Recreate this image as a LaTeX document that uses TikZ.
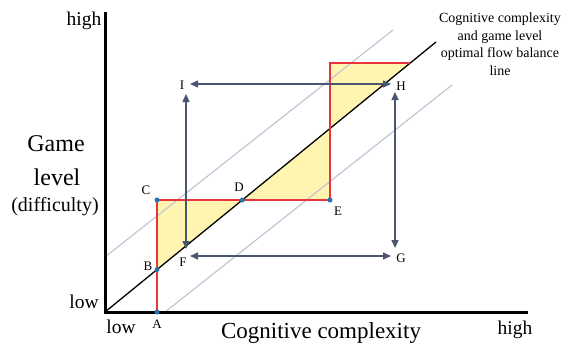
\documentclass[tikz,border=0pt]{standalone}
\usepackage{fontspec}
\setmainfont{Liberation Serif}
\usetikzlibrary{arrows.meta}

\definecolor{stairred}{HTML}{E8343C}
\definecolor{flowyellow}{HTML}{FFF5B0}
\definecolor{dotblue}{HTML}{2A72A8}
\definecolor{arrowgray}{HTML}{4A5570}
\definecolor{bandgray}{HTML}{C2C6D4}

\tikzset{
  dot/.style={circle,fill=dotblue,inner sep=0pt,minimum size=5pt},
  lbl/.style={font=\fontsize{13}{13}\selectfont,inner sep=1pt},
  flowarrow/.style={arrowgray,line width=1.4pt,{Triangle[length=8pt,width=7pt]}-{Triangle[length=8pt,width=7pt]}}
}

\begin{document}
\begin{tikzpicture}[x=1pt,y=-1pt]
            \useasboundingbox (0,0) rectangle (565,346);

            \coordinate (O) at (105,312);
            \coordinate (T) at (436,42);
            \coordinate (A) at (157,312);
            \coordinate (B) at (157,269.6);
            \coordinate (C) at (157,200);
            \coordinate (D) at (242.3,200);
            \coordinate (E) at (330,200);
            \coordinate (M) at (330,128.5);
            \coordinate (P) at (330,63);
            \coordinate (Q) at (410.3,63);

            % yellow areas between steps and balance line
            \fill[flowyellow] (B)--(C)--(D)--cycle;
            \fill[flowyellow] (D)--(E)--(P)--(Q)--cycle;

            % band around balance line
            \draw[bandgray,line width=1.2pt] (105,257)--(393,30);
            \draw[bandgray,line width=1.2pt] (165,312)--(452,85);

            \draw[line width=1.3pt] (O)--(T);
            \draw[stairred,line width=1.8pt] (A)--(C)--(E)--(P)--(Q);

            % axes
            \draw[line width=3pt] (105,12)--(O)--(528,312);

            \foreach \p in {A,B,C,D,E} \node[dot] at (\p) {};

            % arrows
            \coordinate (i1) at (190,84);
            \coordinate (h1) at (391,84);
            \coordinate (f1) at (190,256);
            \coordinate (g1) at (391,256);
            \coordinate (v1) at (186,94);
            \coordinate (v2) at (186,249);
            \coordinate (w1) at (395,92);
            \coordinate (w2) at (395,248);
            \draw[flowarrow] (i1)--(h1);
            \draw[flowarrow] (f1)--(g1);
            \draw[flowarrow] (v1)--(v2);
            \draw[flowarrow] (w1)--(w2);

            \node[lbl] (la) at (157,324) {A};
            \node[lbl] (lb) at (148,266) {B};
            \node[lbl] (lc) at (146,190) {C};
            \node[lbl] (ld) at (239,187) {D};
            \node[lbl] (le) at (338,211) {E};
            \node[lbl] (lf) at (183,262) {F};
            \node[lbl] (lg) at (401,258) {G};
            \node[lbl] (lh) at (401,86) {H};
            \node[lbl] (li) at (182,85) {I};

            \node[font=\fontsize{19.5}{20}\selectfont] (yhigh) at (84,21) {high};
            \node[font=\fontsize{19.5}{20}\selectfont] (ylow) at (84,302) {low};
            \node[font=\fontsize{19.5}{20}\selectfont] (xlow) at (121,327) {low};
            \node[font=\fontsize{19.5}{20}\selectfont] (xhigh) at (515,330) {high};
            \node[font=\fontsize{23}{24}\selectfont] (xtitle) at (321,333) {Cognitive complexity};
            \node[font=\fontsize{24}{24}\selectfont] (ygame) at (56,144) {Game};
            \node[font=\fontsize{24}{24}\selectfont] (ylevel) at (57,177) {level};
            \node[font=\fontsize{20}{20}\selectfont] (ydiff) at (55,207) {(difficulty)};

            \node[font=\fontsize{14}{17.5}\selectfont,align=center] (note) at (500,44)
              {Cognitive complexity\\and game level\\optimal flow balance\\line};
        \end{tikzpicture}
\end{document}
